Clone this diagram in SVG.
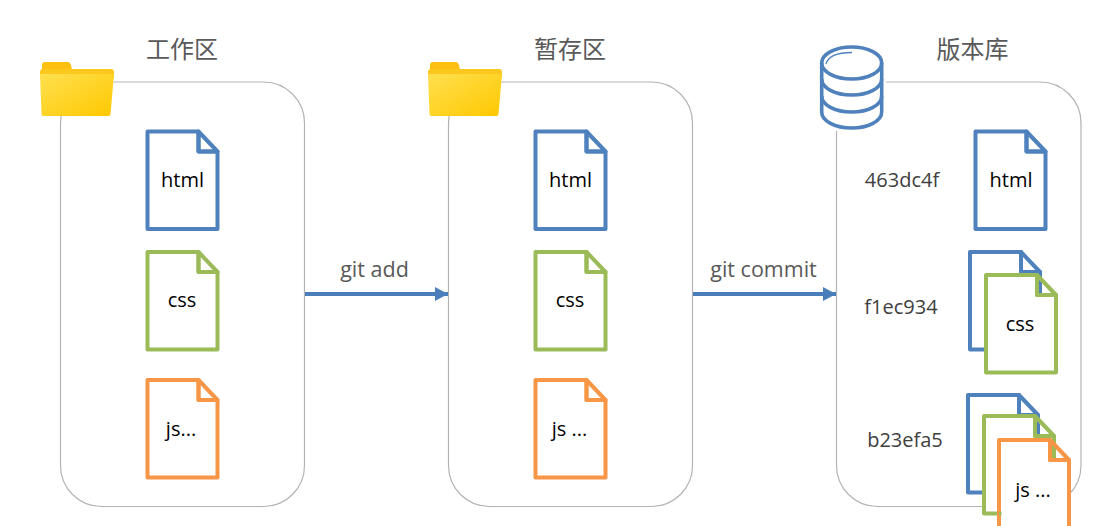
<svg xmlns="http://www.w3.org/2000/svg" xmlns:xlink="http://www.w3.org/1999/xlink" width="1094" height="526" viewBox="0 0 1094 526">
<style>
.panel{fill:#fff;stroke:#b3b3b3;stroke-width:1.2}
.title{font:24px "Noto Sans CJK SC","Open Sans",sans-serif;fill:#595959;text-anchor:middle}
.lbl{font:20px "Open Sans","Noto Sans",sans-serif;fill:#000;text-anchor:middle}
.hash{font:20px "Open Sans","Noto Sans",sans-serif;fill:#404040;text-anchor:middle}
.cmd{font:21.500px "Open Sans","Noto Sans",sans-serif;fill:#595959;text-anchor:middle}
.body{fill:#fff;stroke-width:4;stroke-linejoin:round}
.fold{fill:none;stroke-width:4;stroke-linejoin:round}
.blue{stroke:#4f81bd}.green{stroke:#9bbb59}.orange{stroke:#f79646}
.conn{stroke:#4a7ebb;stroke-width:4;fill:none}
.db{fill:none;stroke:#4f81bd;stroke-width:3.6}
</style>
<defs>
<marker id="arrow" markerUnits="userSpaceOnUse" markerWidth="13" markerHeight="14" refX="13" refY="7" orient="auto"><path d="M0 0L13 7L0 14Z" fill="#4a7ebb"/></marker>
<linearGradient id="fg" x1="0" y1="0" x2="1" y2="1"><stop offset="0" stop-color="#ffe04f"/><stop offset="1" stop-color="#ffc800"/></linearGradient>
<g id="folder">
<path d="M42 65q0-3 3-3h23q2 0 3 3l1 5h-30z" fill="#fdc010"/>
<path d="M40 72q0-3 3-3h68q3 0 3 3v6h-74z" fill="#fdc81e"/>
<path d="M40 74h74l-3.500 40q0 2-3 2h-63q-3 0-3-2z" fill="url(#fg)"/>
</g>
<path id="b" d="M0 0H51V20H70V97.500H0Z"/>
<path id="f" d="M51 0L70 20H51Z"/>
</defs>
<rect width="1094" height="526" fill="#fff"/>

<g id="panel-work"><rect class="panel" x="60.500" y="82" width="244" height="424.500" rx="41"/></g>
<g id="panel-stage"><rect class="panel" x="448.500" y="82" width="244" height="424.500" rx="41"/></g>
<g id="panel-repo"><rect class="panel" x="836.500" y="82" width="244.500" height="424.500" rx="41"/></g>

<g id="connectors">
<path class="conn" d="M305 294H448" marker-end="url(#arrow)"/>
<path class="conn" d="M693 294H836" marker-end="url(#arrow)"/>
</g>

<g id="label-git-add"><text class="cmd" x="374.500" y="277">git add</text></g>
<g id="label-git-commit"><text class="cmd" x="763.500" y="277">git commit</text></g>

<g id="work-title"><text class="title" x="182" y="58">工作区</text></g>
<g id="stage-title"><text class="title" x="570" y="58">暂存区</text></g>
<g id="repo-title"><text class="title" x="972.500" y="58">版本库</text></g>

<g id="work-folder"><use xlink:href="#folder" href="#folder"/></g>
<g id="stage-folder"><use xlink:href="#folder" href="#folder" x="388"/></g>

<g id="repo-db">
<rect x="817" y="42" width="69" height="89" fill="#fff"/>
<ellipse class="db" cx="851.700" cy="63" rx="30" ry="16"/>
<path class="db" d="M821.700 63V112C821.700 121 835 128 851.700 128S881.700 121 881.700 112V63"/>
<path class="db" d="M821.700 79C821.700 88 835 95 851.700 95S881.700 88 881.700 79"/>
<path class="db" d="M821.700 96C821.700 105 835 112 851.700 112S881.700 105 881.700 96"/>
<path d="M826 64C828 56 838 52.500 852 52.500" fill="none" stroke="#4f81bd" stroke-width="1.300"/>
</g>

<g id="work-html" transform="translate(147.500,131.500)"><use class="body blue" xlink:href="#b" href="#b"/><use class="fold blue" xlink:href="#f" href="#f"/><text class="lbl" x="35" y="55.500">html</text></g>
<g id="work-css" transform="translate(147.500,252)"><use class="body green" xlink:href="#b" href="#b"/><use class="fold green" xlink:href="#f" href="#f"/><text class="lbl" x="34.500" y="55">css</text></g>
<g id="work-js" transform="translate(147.500,380)"><use class="body orange" xlink:href="#b" href="#b"/><use class="fold orange" xlink:href="#f" href="#f"/><text class="lbl" x="33.500" y="56">js...</text></g>

<g id="stage-html" transform="translate(535.500,131.500)"><use class="body blue" xlink:href="#b" href="#b"/><use class="fold blue" xlink:href="#f" href="#f"/><text class="lbl" x="35" y="55.500">html</text></g>
<g id="stage-css" transform="translate(535.500,252)"><use class="body green" xlink:href="#b" href="#b"/><use class="fold green" xlink:href="#f" href="#f"/><text class="lbl" x="34.500" y="55">css</text></g>
<g id="stage-js" transform="translate(535.500,380)"><use class="body orange" xlink:href="#b" href="#b"/><use class="fold orange" xlink:href="#f" href="#f"/><text class="lbl" x="34" y="56">js ...</text></g>

<g id="hash-1"><text class="hash" x="902" y="187">463dc4f</text></g>
<g id="hash-2"><text class="hash" x="901" y="314">f1ec934</text></g>
<g id="hash-3"><text class="hash" x="905" y="447">b23efa5</text></g>

<g id="repo-html" transform="translate(975.500,131.500)"><use class="body blue" xlink:href="#b" href="#b"/><use class="fold blue" xlink:href="#f" href="#f"/><text class="lbl" x="35.500" y="55.500">html</text></g>
<g id="repo-css-back" transform="translate(970,252)"><use class="body blue" xlink:href="#b" href="#b"/><use class="fold blue" xlink:href="#f" href="#f"/></g>
<g id="repo-css" transform="translate(986,275)"><use class="body green" xlink:href="#b" href="#b"/><use class="fold green" xlink:href="#f" href="#f"/><text class="lbl" x="34" y="56">css</text></g>
<g id="repo-js-back1" transform="translate(968,395)"><use class="body blue" xlink:href="#b" href="#b"/><use class="fold blue" xlink:href="#f" href="#f"/></g>
<g id="repo-js-back2" transform="translate(984,416)"><use class="body green" xlink:href="#b" href="#b"/><use class="fold green" xlink:href="#f" href="#f"/></g>
<g id="repo-js" transform="translate(999,440)"><use class="body orange" xlink:href="#b" href="#b"/><use class="fold orange" xlink:href="#f" href="#f"/><text class="lbl" x="34" y="57">js ...</text></g>
<path d="M999 513.500h2.500" stroke="#9bbb59" stroke-width="4" fill="none"/>
</svg>
